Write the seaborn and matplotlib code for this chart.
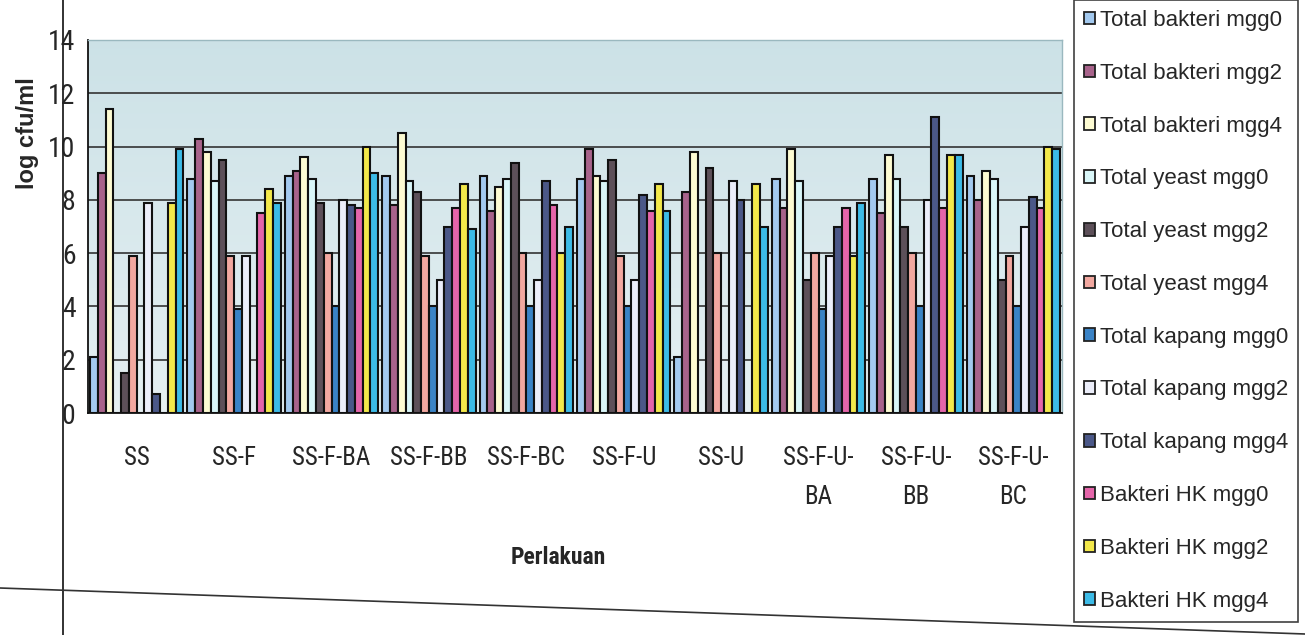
import numpy as np
import pandas as pd
import matplotlib
matplotlib.use("Agg")
import matplotlib.pyplot as plt
from matplotlib import font_manager
from matplotlib.lines import Line2D
from matplotlib.patches import Patch
import seaborn as sns

# ---- data: log cfu/ml per treatment ----
categories = ["SS", "SS-F", "SS-F-BA", "SS-F-BB", "SS-F-BC", "SS-F-U",
              "SS-U", "SS-F-U-\nBA", "SS-F-U-\nBB", "SS-F-U-\nBC"]

series_names = ["Total bakteri mgg0", "Total bakteri mgg2", "Total bakteri mgg4",
                "Total yeast mgg0", "Total yeast mgg2", "Total yeast mgg4",
                "Total kapang mgg0", "Total kapang mgg2", "Total kapang mgg4",
                "Bakteri HK mgg0", "Bakteri HK mgg2", "Bakteri HK mgg4"]

total_bakteri_mgg0 = [2.1, 8.8, 8.9, 8.9, 8.9, 8.8, 2.1, 8.8, 8.8, 8.9]
total_bakteri_mgg2 = [9.0, 10.3, 9.1, 7.8, 7.6, 9.9, 8.3, 7.7, 7.5, 8.0]
total_bakteri_mgg4 = [11.4, 9.8, 9.6, 10.5, 8.5, 8.9, 9.8, 9.9, 9.7, 9.1]
total_yeast_mgg0 = [0.0, 8.7, 8.8, 8.7, 8.8, 8.7, 0.0, 8.7, 8.8, 8.8]
total_yeast_mgg2 = [1.5, 9.5, 7.9, 8.3, 9.4, 9.5, 9.2, 5.0, 7.0, 5.0]
total_yeast_mgg4 = [5.9, 5.9, 6.0, 5.9, 6.0, 5.9, 6.0, 6.0, 6.0, 5.9]
total_kapang_mgg0 = [0.0, 3.9, 4.0, 4.0, 4.0, 4.0, 0.0, 3.9, 4.0, 4.0]
total_kapang_mgg2 = [7.9, 5.9, 8.0, 5.0, 5.0, 5.0, 8.7, 5.9, 8.0, 7.0]
total_kapang_mgg4 = [0.7, 0.0, 7.8, 7.0, 8.7, 8.2, 8.0, 7.0, 11.1, 8.1]
bakteri_hk_mgg0 = [0.0, 7.5, 7.7, 7.7, 7.8, 7.6, 0.0, 7.7, 7.7, 7.7]
bakteri_hk_mgg2 = [7.9, 8.4, 10.0, 8.6, 6.0, 8.6, 8.6, 5.9, 9.7, 10.0]
bakteri_hk_mgg4 = [9.9, 7.9, 9.0, 6.9, 7.0, 7.6, 7.0, 7.9, 9.7, 9.9]

y_ticks = [0, 2, 4, 6, 8, 10, 12, 14]

series_values = [total_bakteri_mgg0, total_bakteri_mgg2, total_bakteri_mgg4,
                 total_yeast_mgg0, total_yeast_mgg2, total_yeast_mgg4,
                 total_kapang_mgg0, total_kapang_mgg2, total_kapang_mgg4,
                 bakteri_hk_mgg0, bakteri_hk_mgg2, bakteri_hk_mgg4]

colors = ["#a3c9ef", "#a8638b", "#fdfbd2", "#d9f6f8", "#5d5059", "#f2a8a0",
          "#3a83c6", "#eceefa", "#4b5888", "#e565aa", "#f3e84a", "#3cbbe7"]

df = pd.DataFrame({
    "Perlakuan": np.repeat(categories, len(series_names)),
    "Seri": series_names * len(categories),
    "Nilai": [series_values[s][c] for c in range(len(categories))
              for s in range(len(series_names))],
})

# ---- fonts: a narrow sans for axis text when one is installed ----
names = {f.name for f in font_manager.fontManager.ttflist}
regular = "Liberation Sans" if "Liberation Sans" in names else "DejaVu Sans"
narrow = regular
for cand in ["Liberation Sans Narrow", "Arial Narrow", "Roboto Condensed"]:
    if cand in names:
        narrow = cand
        break
narrow_fp = dict(family=[narrow, "DejaVu Sans"])

sns.set_theme(style="white")
plt.rcParams["font.family"] = [regular, "DejaVu Sans"]

fig = plt.figure(figsize=(13.05, 6.35), dpi=100)
ax = fig.add_axes([88 / 1305, 1 - 413 / 635, (1062 - 88) / 1305, (413 - 40) / 635])

# plot-area fill: pale teal fading slightly towards the base
grad = np.linspace(0, 1, 256).reshape(-1, 1)
top_c = np.array([0.80, 0.885, 0.905])
bot_c = np.array([0.90, 0.94, 0.95])
img = bot_c[None, None, :] * (1 - grad[:, :, None]) + top_c[None, None, :] * grad[:, :, None]
ax.imshow(img, extent=(-0.5, len(categories) - 0.5, 0, 14), aspect="auto",
          origin="lower", zorder=0)

sns.barplot(data=df, x="Perlakuan", y="Nilai", hue="Seri", hue_order=series_names,
            palette=colors, width=0.96, edgecolor="#111111", linewidth=1.5,
            saturation=1, ax=ax, zorder=2, legend=False)

ax.set_xlim(-0.5, len(categories) - 0.5)
ax.set_ylim(0, 14)
ax.set_yticks(y_ticks)
ax.set_axisbelow(True)
ax.yaxis.grid(True, color="#333333", linewidth=1.2, zorder=0.5)
ax.xaxis.grid(False)

for side in ["left", "bottom"]:
    ax.spines[side].set_color("#111111")
    ax.spines[side].set_linewidth(1.3)
for side in ["top", "right"]:
    ax.spines[side].set_color("#9ab8bf")
    ax.spines[side].set_linewidth(1.0)

ax.tick_params(axis="y", direction="out", length=6, width=1.2, color="#111111",
               labelsize=20, pad=3)
ax.tick_params(axis="x", which="major", length=0, pad=24, labelsize=18)
ax.set_xticks(np.arange(-0.5, len(categories) - 0.4, 1.0), minor=True)
ax.tick_params(axis="x", which="minor", direction="out", length=8, width=1.2,
               color="#111111")
for lab in ax.get_xticklabels():
    lab.set(**narrow_fp)
    lab.set_linespacing(1.75)
for lab in ax.get_yticklabels():
    lab.set(**narrow_fp)

ax.set_xlabel("")
ax.set_ylabel("")
fig.text(558 / 1305, 1 - 558 / 635, "Perlakuan", ha="center", va="center",
         fontsize=17, fontweight="bold", **narrow_fp)
fig.text(28 / 1305, 1 - 133 / 635, "log cfu/ml", ha="center", va="center",
         rotation=90, fontsize=17, fontweight="bold")

# legend
handles = [Patch(facecolor=c, edgecolor="#222222", linewidth=1.3) for c in colors]
leg = fig.legend(handles, series_names, loc="upper left",
                 bbox_to_anchor=(1074 / 1305, 1 - 0 / 635),
                 frameon=True, fancybox=False, fontsize=16,
                 handlelength=0.5, handleheight=0.5, handletextpad=0.2,
                 labelspacing=1.43, borderpad=0.45, borderaxespad=0)
leg.get_frame().set_edgecolor("#111111")
leg.get_frame().set_linewidth(1.2)

# outer frame of the chart area
fig.add_artist(Line2D([63 / 1305, 63 / 1305], [0, 1], color="#222222", lw=1.3))
fig.add_artist(Line2D([0, 1], [1 - 588 / 635, 1 - 634 / 635], color="#333333", lw=1.2))

fig.savefig("out.png", dpi=100, facecolor="white")
